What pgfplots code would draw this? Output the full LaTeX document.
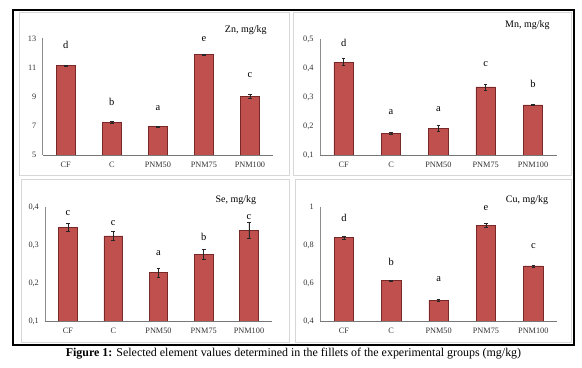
\documentclass[border=0pt]{standalone}
\usepackage{fontspec}
\setmainfont{Liberation Serif}
\usepackage{pgfplots}
\usepackage{pgfplotstable}
\pgfplotsset{compat=1.18}
\definecolor{barfill}{RGB}{192,80,77}
\definecolor{baredge}{RGB}{120,40,38}
\definecolor{axgray}{RGB}{140,140,140}
\definecolor{panelgray}{RGB}{215,215,215}
\definecolor{ticktext}{RGB}{50,50,50}

% x: category index, val: mean, err: error, ly: letter height, lab: letter
\pgfplotstableread{
x val err ly lab
0 11.12 0.04 12.55 d
1 7.24 0.05 8.65 b
2 6.94 0.03 8.20 a
3 11.88 0.06 12.95 e
4 9.04 0.12 10.48 c
}\zn
\pgfplotstableread{
x val err ly lab
0 0.420 0.012 0.485 d
1 0.175 0.003 0.249 a
2 0.193 0.010 0.257 a
3 0.335 0.010 0.413 c
4 0.273 0.002 0.344 b
}\mn
\pgfplotstableread{
x val err ly lab
0 0.347 0.010 0.384 c
1 0.324 0.012 0.358 c
2 0.228 0.012 0.279 a
3 0.276 0.014 0.321 b
4 0.339 0.022 0.374 c
}\se
\pgfplotstableread{
x val err ly lab
0 0.838 0.008 0.940 d
1 0.612 0.005 0.712 b
2 0.510 0.004 0.621 a
3 0.902 0.010 0.993 e
4 0.690 0.005 0.796 c
}\cu

\pgfplotsset{
  panel/.style={
    scale only axis, anchor=south west,
    axis x line=bottom, axis y line=left,
    x axis line style={-, draw=axgray!85!black, line width=0.7pt},
    y axis line style={-, draw=axgray, line width=0.6pt},
    xmin=-0.5, xmax=4.5,
    xtick={0,1,2,3,4},
    xticklabels={CF,C,PNM50,PNM75,PNM100},
    major tick length=0pt,
    tick label style={font=\fontsize{8.3}{10}\selectfont, text=ticktext},
    xticklabel style={yshift=-3.5bp},
    yticklabel style={xshift=-3bp},
    /pgf/number format/assume math mode=true,
    /pgf/number format/use comma,
  },
  lab/.style={
    scale only axis, anchor=south west, hide axis, clip=false,
    xmin=-0.5, xmax=4.5,
  },
  barplot/.style={
    ybar, bar width=0.41, bar shift=0pt,
    fill=barfill, draw=baredge, line width=0.6pt,
    error bars/.cd, y dir=both, y explicit,
    error bar style={black!85, line width=0.5pt},
    error mark options={rotate=90, black!85, mark size=1.8pt, line width=0.5pt},
  },
  letters/.style={
    draw=none, mark=none, nodes near coords, point meta=explicit symbolic,
    nodes near coords style={anchor=center, font=\fontsize{10.5}{12}\selectfont, text=black},
  },
}

\begin{document}
\begin{tikzpicture}
\useasboundingbox (0bp,0bp) rectangle (582bp,368bp);
% outer frame and panel frames
\draw[panelgray, line width=0.6pt] (19.5bp,192.5bp) rectangle (289bp,355.5bp);
\draw[panelgray, line width=0.6pt] (293.5bp,192.5bp) rectangle (571bp,355.5bp);
\draw[panelgray, line width=0.6pt] (21.5bp,26bp) rectangle (289bp,188.5bp);
\draw[panelgray, line width=0.6pt] (295.5bp,26bp) rectangle (571bp,188.5bp);
\draw[black, line width=1.2pt] (13bp,23bp) rectangle (574bp,358bp);

% Zn
\begin{axis}[panel, at={(42.7bp,213bp)}, width=230.3bp, height=116.7bp,
  ymin=5, ymax=13, ytick={5,7,9,11,13}]
\addplot[barplot] table[x=x, y=val, y error=err]{\zn};
\end{axis}
\begin{axis}[lab, at={(42.7bp,213bp)}, width=230.3bp, height=116.7bp, ymin=5, ymax=13]
\addplot[letters] table[x=x, y=ly, meta=lab]{\zn};
\end{axis}
\node[anchor=east, font=\fontsize{10}{12}\selectfont] at (270bp,338bp) {Zn, mg/kg};

% Mn
\begin{axis}[panel, at={(320bp,213bp)}, width=236.7bp, height=116bp,
  ymin=0.1, ymax=0.5, ytick={0.1,0.2,0.3,0.4,0.5},
  yticklabel style={/pgf/number format/fixed, /pgf/number format/precision=1}]
\addplot[barplot] table[x=x, y=val, y error=err]{\mn};
\end{axis}
\begin{axis}[lab, at={(320bp,213bp)}, width=236.7bp, height=116bp, ymin=0.1, ymax=0.5]
\addplot[letters] table[x=x, y=ly, meta=lab]{\mn};
\end{axis}
\node[anchor=east, font=\fontsize{10}{12}\selectfont] at (553bp,343bp) {Mn, mg/kg};

% Se
\begin{axis}[panel, at={(45.4bp,47bp)}, width=226.2bp, height=114bp,
  ymin=0.1, ymax=0.4, ytick={0.1,0.2,0.3,0.4},
  yticklabel style={/pgf/number format/fixed, /pgf/number format/precision=1}]
\addplot[barplot] table[x=x, y=val, y error=err]{\se};
\end{axis}
\begin{axis}[lab, at={(45.4bp,47bp)}, width=226.2bp, height=114bp, ymin=0.1, ymax=0.4]
\addplot[letters] table[x=x, y=ly, meta=lab]{\se};
\end{axis}
\node[anchor=east, font=\fontsize{10}{12}\selectfont] at (259.5bp,168bp) {Se, mg/kg};

% Cu
\begin{axis}[panel, at={(320.2bp,47bp)}, width=236.8bp, height=114bp,
  ymin=0.4, ymax=1, ytick={0.4,0.6,0.8,1},
  yticklabel style={/pgf/number format/fixed, /pgf/number format/precision=1}]
\addplot[barplot] table[x=x, y=val, y error=err]{\cu};
\end{axis}
\begin{axis}[lab, at={(320.2bp,47bp)}, width=236.8bp, height=114bp, ymin=0.4, ymax=1]
\addplot[letters] table[x=x, y=ly, meta=lab]{\cu};
\end{axis}
\node[anchor=east, font=\fontsize{10}{12}\selectfont] at (551.5bp,168bp) {Cu, mg/kg};

% caption
\node[font=\fontsize{12}{14}\selectfont] at (293.5bp,14.5bp)
  {\textbf{Figure 1:} Selected element values determined in the fillets of the experimental groups (mg/kg)};
\end{tikzpicture}
\end{document}
